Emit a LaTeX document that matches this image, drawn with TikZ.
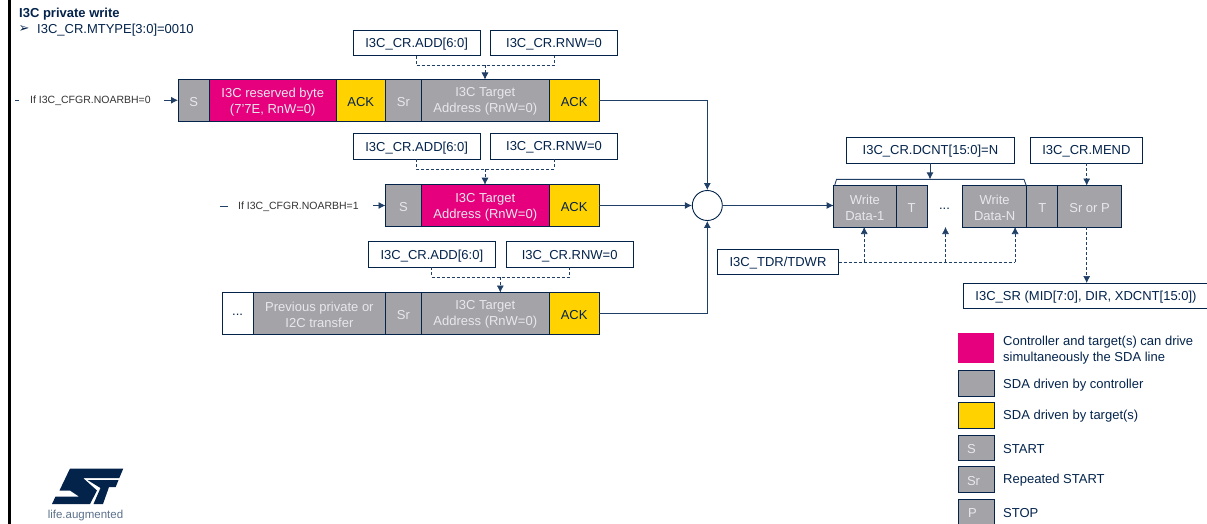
\documentclass[tikz,border=0pt]{standalone}
\usepackage{fontspec}
\setmainfont{Liberation Sans}
\newfontfamily\symfont{DejaVu Sans}
\usetikzlibrary{arrows.meta}
\definecolor{navy}{HTML}{03234B}
\definecolor{pinkc}{HTML}{E6007E}
\definecolor{yell}{HTML}{FFD200}
\definecolor{greyc}{HTML}{A4A3A8}
\definecolor{lightt}{HTML}{E8E8EC}
\definecolor{linec}{HTML}{1F3F66}
\tikzset{
  x=1pt,y=-1pt,
  cellbase/.style={draw=navy,line width=0.9pt,inner sep=0pt,outer sep=0pt,anchor=north west,align=center,font=\fontsize{13}{16}\selectfont},
  grey/.style={cellbase,fill=greyc,text=lightt},
  pink/.style={cellbase,fill=pinkc,text=lightt},
  ack/.style={cellbase,fill=yell,text=navy},
  blank/.style={cellbase,fill=white,text=navy},
  reg/.style={cellbase,fill=white,text=navy},
  solidarrow/.style={draw=linec,line width=0.9pt,-{Latex[length=7pt,width=7pt]}},
  solidline/.style={draw=linec,line width=0.9pt},
  thinline/.style={draw=linec,line width=0.6pt},
  dasharrow/.style={draw=linec,line width=0.6pt,densely dashed,-{Latex[length=7pt,width=7pt]}},
  dashline/.style={draw=linec,line width=0.6pt,densely dashed},
  cond/.style={inner sep=0pt,anchor=west,font=\fontsize{10.5}{12}\selectfont,text=black!80},
  legtext/.style={inner sep=0pt,anchor=west,align=left,font=\fontsize{13}{16}\selectfont,text=navy},
}
% name, x1, x2, y1, y2, style, text : the box, then its text set a little lower
\newcommand{\cell}[7]{%
  \pgfmathsetlengthmacro{\cw}{#3-#2}\pgfmathsetlengthmacro{\ch}{#5-#4}%
  \node[#6,minimum width=\cw,minimum height=\ch] (#1) at (#2,#4) {};
  \node[#6,draw=none,fill=none,anchor=center] (#1t) at ([yshift=-1.4pt]#1.center) {#7};}
\begin{document}
\begin{tikzpicture}
\useasboundingbox (0,0) rectangle (1207,524);
\fill[black] (8.3,0) rectangle (11,524);
\node[inner sep=0pt,anchor=west,font=\fontsize{13}{14}\selectfont\bfseries,text=navy] (title) at (19,14.5) {I3C private write};
\node[inner sep=0pt,anchor=west,font=\fontsize{13}{14}\selectfont\symfont,text=navy] (bul) at (18.5,29.5) {➢};
\node[inner sep=0pt,anchor=west,font=\fontsize{13}{14}\selectfont,text=navy] (mtype) at (37,30.5) {I3C\_CR.MTYPE[3:0]=0010};

% row 1
\cell{a1}{178}{209.5}{79.5}{121}{grey}{S}
\cell{a2}{209.5}{336}{79.5}{121}{pink}{I3C reserved byte\\(7'7E, RnW=0)}
\cell{a3}{336}{385.5}{79.5}{121}{ack}{ACK}
\cell{a4}{385.5}{421.3}{79.5}{121}{grey}{Sr}
\cell{a5}{421.3}{549.3}{79.5}{121}{grey}{I3C Target\\Address (RnW=0)}
\cell{a6}{549.3}{599}{79.5}{121}{ack}{ACK}
% row 2
\cell{b1}{385.5}{421.3}{184.7}{226.3}{grey}{S}
\cell{b2}{421.3}{549.3}{184.7}{226.3}{pink}{I3C Target\\Address (RnW=0)}
\cell{b3}{549.3}{599}{184.7}{226.3}{ack}{ACK}
% row 3
\cell{c1}{222}{253.3}{292.5}{334}{blank}{\raisebox{-2pt}{...}}
\cell{c2}{253.3}{385.5}{292.5}{334}{grey}{Previous private or\\I2C transfer}
\cell{c3}{385.5}{421.3}{292.5}{334}{grey}{Sr}
\cell{c4}{421.3}{549.3}{292.5}{334}{grey}{I3C Target\\Address (RnW=0)}
\cell{c5}{549.3}{599}{292.5}{334}{ack}{ACK}
% data row
\cell{d1}{833.6}{896.1}{185.5}{227}{grey}{Write\\Data-1}
\cell{d2}{896.1}{927}{185.5}{227}{grey}{T}
\cell{d3}{962.4}{1026.9}{185.5}{227}{grey}{Write\\Data-N}
\cell{d4}{1026.9}{1057.8}{185.5}{227}{grey}{T}
\cell{d5}{1057.8}{1121.3}{185.5}{227}{grey}{Sr or P}
\node[inner sep=0pt,font=\fontsize{13}{16}\selectfont,text=navy] (dots) at (944.5,208.5) {...};

% register boxes
\cell{ra1}{353.3}{480}{30.3}{55.7}{reg}{I3C\_CR.ADD[6:0]}
\cell{rr1}{490.7}{617.3}{30.3}{55.7}{reg}{I3C\_CR.RNW=0}
\cell{ra2}{353.3}{480}{133.5}{159}{reg}{I3C\_CR.ADD[6:0]}
\cell{rr2}{490.7}{617.3}{133.5}{159}{reg}{I3C\_CR.RNW=0}
\cell{ra3}{368.7}{495}{241.7}{267.3}{reg}{I3C\_CR.ADD[6:0]}
\cell{rr3}{506.3}{633}{241.7}{267.3}{reg}{I3C\_CR.RNW=0}
\cell{dcnt}{846.4}{1014.5}{137.4}{163}{reg}{I3C\_CR.DCNT[15:0]=N}
\cell{mend}{1030.3}{1142.5}{137.4}{163}{reg}{I3C\_CR.MEND}
\cell{tdr}{717.3}{838.7}{249.3}{274.9}{reg}{I3C\_TDR/TDWR}
\cell{sr}{963}{1209}{283}{308.1}{reg}{I3C\_SR (MID[7:0], DIR, XDCNT[15:0])}

% merge circle
\node[circle,draw=navy,line width=0.9pt,fill=white,minimum size=30pt,inner sep=0pt] (m) at (707.3,205.5) {};

% conditions
\coordinate (t1a) at (15,100.3);\coordinate (t1b) at (19,100.3);
\draw[thinline] (t1a) -- (t1b);
\node[cond] (q1) at (30,101) {If I3C\_CFGR.NOARBH=0};
\coordinate (q1s) at (164,100.25);
\draw[solidarrow] (q1s) -- (a1.west);
\coordinate (t2a) at (220,206);\coordinate (t2b) at (228,206);
\draw[thinline] (t2a) -- (t2b);
\node[cond] (q2) at (238,206.7) {If I3C\_CFGR.NOARBH=1};
\coordinate (q2s) at (373,205.5);
\draw[solidarrow] (q2s) -- (b1.west);

% to the merge
\draw[solidarrow] (a6.east) -| (m.north);
\draw[solidarrow] (b3.east) -- (m.west);
\draw[solidarrow] (c5.east) -| (m.south);
\draw[solidarrow] (m.east) -- (m.east -| d1.west);

% dashed joins
\coordinate (j1) at (485,65.3);
\draw[dashline] (ra1.south -| 416.3,0) |- (j1) -| (rr1.south -| 554.3,0);
\draw[dasharrow] (j1) -- (485,79.5);
\coordinate (j2) at (485,169);
\draw[dashline] (ra2.south -| 416.3,0) |- (j2) -| (rr2.south -| 554.3,0);
\draw[dasharrow] (j2) -- (485,184.7);
\coordinate (j3) at (500.3,277.3);
\draw[dashline] (ra3.south -| 431.7,0) |- (j3) -| (rr3.south -| 569.3,0);
\draw[dasharrow] (j3) -- (500.3,292.5);

% bracket over data
\coordinate (bl) at (836.5,179.4);
\coordinate (br) at (1024,179.4);
\coordinate (bm) at (930,179.4);
\draw[solidline] (834.6,185.5) -- (bl) -- (br) -- (1026.2,185.5);
\draw[solidarrow] (dcnt.south -| bm) -- (bm);
\draw[dasharrow] (mend.south -| 1086.7,0) -- (d5.north -| 1086.7,0);
\draw[dasharrow] (d5.south -| 1086.7,0) -- (sr.north -| 1086.7,0);

% TDR
\coordinate (e1) at (864.2,262.4);
\coordinate (e2) at (945.5,262.4);
\coordinate (e3) at (1015.1,262.4);
\draw[dashline] (tdr.east |- e1) -- (e3);
\draw[dasharrow] (e1) -- (d1.south -| e1);
\draw[dasharrow] (e2) -- (e2 |- d1.south);
\draw[dasharrow] (e3) -- (d3.south -| e3);

% legend
\node[fill=pinkc,inner sep=0pt,outer sep=0pt,anchor=north west,minimum width=36pt,minimum height=30pt] (l1) at (958,333) {};
\cell{l2}{958}{994}{370.7}{396.3}{grey}{}
\cell{l3}{958}{994}{402.7}{428.3}{ack}{}
\cell{l4}{958}{994}{435.3}{460.7}{grey}{\makebox[36pt][l]{\hspace{9pt}S}}
\cell{l5}{958}{994}{466.7}{492}{grey}{\makebox[36pt][l]{\hspace{9pt}Sr}}
\cell{l6}{958}{994}{499}{530}{grey}{}
\node[inner sep=0pt,anchor=west,font=\fontsize{13}{16}\selectfont,text=lightt] (pl) at (968,513) {P};
\node[legtext] (lt1) at (1003,350) {Controller and target(s) can drive\\simultaneously the SDA line};
\node[legtext] (lt2) at (1003,385.5) {SDA driven by controller};
\node[legtext] (lt3) at (1003,416.5) {SDA driven by target(s)};
\node[legtext] (lt4) at (1003,449) {START};
\node[legtext] (lt5) at (1003,480.5) {Repeated START};
\node[legtext] (lt6) at (1003,513) {STOP};

% logo
\fill[navy] (70,468.5) -- (123.3,468.5) -- (119.3,478) -- (83,478) -- (97,490.5) -- (90,504) -- (52,504) -- (55.5,496.5) -- (79,496.5) -- (70,490.5) -- (59.5,490.5) -- cycle;
\fill[navy] (87.5,480) -- (118.5,480) -- (115.7,487) -- (109,487) -- (103,504) -- (93.5,504) -- (100.5,488) -- cycle;
\node[inner sep=0pt,font=\fontsize{11.5}{12}\selectfont,text=navy!65] (life) at (85.5,515.5) {life.augmented};
\end{tikzpicture}
\end{document}
